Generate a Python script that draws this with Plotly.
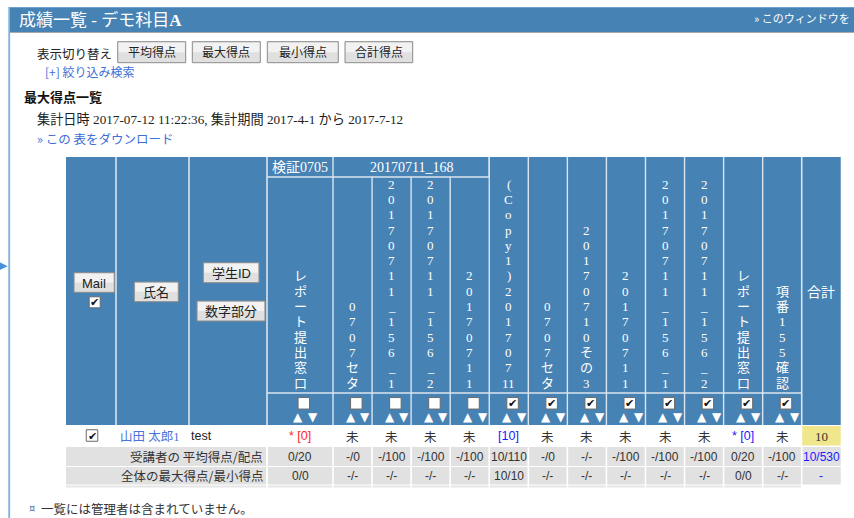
import plotly.graph_objects as go

# ======================= data =======================
page_title = "成績一覧 - デモ科目<b>A</b>"
window_link = "» このウィンドウを"
view_label = "表示切り替え"
view_buttons = ["平均得点", "最大得点", "最小得点", "合計得点"]
filter_link = "[+] 絞り込み検索"
section_title = "最大得点一覧"
summary_line = "集計日時 2017-07-12 11:22:36, 集計期間 2017-4-1 から 2017-7-12"
download_link = "» この 表をダウンロード"
footnote = "一覧には管理者は含まれていません。"

fixed_headers = ["Mail", "氏名", "学生ID", "数字部分"]
item_groups = ["検証0705", "20170711_168"]
item_group_span = [1, 4]
item_names = ["レポート提出窓口", "0707セタ", "20170711_156_1", "20170711_156_2",
              "20170711", "(Copy1)20170711", "0707セタ", "20170710その3", "20170711",
              "20170711_156_1", "20170711_156_2", "レポート提出窓口", "項番155確認"]
item_checked = [False, False, False, False, False, True, True, True, True, True, True, True, True]
total_header = "合計"

student_name = "山田 太郎1"
student_id = "test"
student_scores = ["* [0]", "未", "未", "未", "未", "[10]", "未", "未", "未", "未", "未", "* [0]", "未"]
student_score_kind = ["late", "none", "none", "none", "none", "graded", "none", "none", "none",
                      "none", "none", "graded", "none"]
student_total = "10"

avg_label = "受講者の 平均得点/配点"
avg_per_item = ["0/20", "-/0", "-/100", "-/100", "-/100", "10/110", "-/0", "-/-", "-/100",
                "-/100", "-/100", "0/20", "-/100"]
avg_total = "10/530"
maxmin_label = "全体の最大得点/最小得点"
maxmin_per_item = ["0/0", "-/-", "-/-", "-/-", "-/-", "10/10", "-/-", "-/-", "-/-", "-/-",
                   "-/-", "0/0", "-/-"]
maxmin_total = "-"

# ======================= style / layout =======================
W, H = 854, 518
BLUE = "#4682b4"
SEP = "#dbe5ef"
SANS = "Liberation Sans, Noto Sans CJK JP"
SERIF = "Liberation Serif, Noto Sans CJK JP"
CJK = "Noto Sans CJK JP, Liberation Sans"
LINK = "#3d6fd6"
TXT = "#333333"
KIND_COLOR = {"late": "#ff1f1f", "graded": "#1a1aff", "none": TXT}

TABLE_X0 = 66
FIXED_EDGES = [66, 116, 189, 267]
ITEM_W0, ITEM_W = 66, 39.06
TOTAL_W = 39
Y_TOP, Y_GROUP, Y_HEAD, Y_SORT = 157, 177, 393, 425
Y_STU = (426, 446)
Y_AVG = (447, 466)
Y_MM = (467, 484.5)
LINE_STEP = 15.3
LAST_LINE_Y = 383

edges = [FIXED_EDGES[-1]]
for i in range(len(item_names)):
    edges.append(edges[-1] + (ITEM_W0 if i == 0 else ITEM_W))
TOT_X0 = edges[-1]
TOT_X1 = TOT_X0 + TOTAL_W
centers = [(a + b) / 2 for a, b in zip(edges[:-1], edges[1:])]
TOT_C = (TOT_X0 + TOT_X1) / 2

shapes = []
annos = []


def rect(x0, y0, x1, y1, fill, line=None, lw=0):
    shapes.append(dict(type="rect", x0=x0, y0=y0, x1=x1, y1=y1, fillcolor=fill,
                       line=dict(color=line or fill, width=lw), layer="above"))


def seg(x0, y0, x1, y1, color, lw=1):
    shapes.append(dict(type="line", x0=x0, y0=y0, x1=x1, y1=y1,
                       line=dict(color=color, width=lw), layer="above"))


def text(x, y, s, size=12, color=TXT, anchor="center", family=SANS):
    annos.append(dict(x=x, y=y, text=s, showarrow=False, xanchor=anchor, yanchor="middle",
                      font=dict(size=size, color=color, family=family), borderpad=0))


def button(x0, y0, x1, y1, label, size=12):
    rect(x0, y0, x1, y1, "#e0e0e0", "#8c8c8c", 1)
    rect(x0 + 1, y0 + 1, x1 - 1, (y0 + y1) / 2, "#f2f2f2")
    text((x0 + x1) / 2, (y0 + y1) / 2 + 0.5, label, size, "#222222", family=SANS)


def checkbox(cx, cy, checked, size=11.5):
    h = size / 2
    rect(cx - h, cy - h, cx + h, cy + h, "#ffffff", "#6b6b6b", 1)
    if checked:
        text(cx, cy + 0.5, "✔", 11, "#111111", family="DejaVu Sans")


# ---------- window chrome ----------
seg(9.2, 7, 9.2, H, "#7fb0de", 1.8)
text(3.5, 265, "▶", 11, "#4a90d9", family="DejaVu Sans")
rect(10, 7, W + 2, 32, BLUE)
seg(10, 7.5, W, 7.5, "#6d9fcf", 1)
seg(10, 32.5, W, 32.5, "#a9a9a9", 1.2)
text(18, 20, page_title, 17, "#ffffff", "left", family=SERIF)
text(851, 18, window_link, 11, "#ffffff", "right", family=CJK)

# ---------- controls ----------
text(36, 53, view_label, 12.5, "#222222", "left", family=CJK)
btn_x = [(117.7, 185.7), (192.3, 260.3), (267.3, 338.3), (345, 412.7)]
for (bx0, bx1), lab in zip(btn_x, view_buttons):
    button(bx0, 41.7, bx1, 62.7, lab, 12)
text(44, 71, filter_link, 12, LINK, "left", family=CJK)
text(23, 96, "<b>" + section_title + "</b>", 13, "#111111", "left", family=CJK)
text(36, 119, summary_line, 13.2, "#222222", "left", family=SERIF)
text(36, 138, download_link, 12.5, LINK, "left", family=CJK)

# ---------- header ----------
rect(TABLE_X0, Y_TOP, TOT_X1, Y_SORT, BLUE)
for x in FIXED_EDGES[1:]:
    seg(x, Y_TOP, x, Y_SORT, SEP, 1.6)
for x in edges[1:-1]:
    seg(x, Y_TOP if x >= edges[sum(item_group_span)] else Y_GROUP, x, Y_SORT, SEP, 1.4)
# group boundaries in top row
gx = edges[0]
gi = 0
for name, span in zip(item_groups, item_group_span):
    gx1 = edges[gi + span]
    seg(gx1, Y_TOP, gx1, Y_GROUP, SEP, 1.4)
    text((gx + gx1) / 2, (Y_TOP + Y_GROUP) / 2 + 0.5, name, 14, "#ffffff", family=SERIF)
    gx, gi = gx1, gi + span
seg(edges[0], Y_GROUP, edges[sum(item_group_span)], Y_GROUP, SEP, 1.4)
seg(edges[0], Y_HEAD, TOT_X0, Y_HEAD, SEP, 1.4)
seg(TOT_X0, Y_TOP, TOT_X0, Y_SORT, SEP, 1.6)

# fixed header buttons
button(74, 272.7, 114.3, 292.3, fixed_headers[0], 13)
checkbox(94.7, 302.3, True, 11)
button(134.3, 282, 178.3, 301.7, fixed_headers[1], 13)
button(203.3, 262.7, 259, 282.7, fixed_headers[2], 13)
button(197, 301, 265, 321, fixed_headers[3], 13)

# vertical item names
for i, (name, cx) in enumerate(zip(item_names, centers)):
    lines = list(name)
    if name.startswith("(Copy"):
        lines = lines[:-2] + ["".join(lines[-2:])]
    n = len(lines)
    for k, ch in enumerate(lines):
        y = LAST_LINE_Y - (n - 1 - k) * LINE_STEP
        text(cx, y, ch, 13, "#ffffff", family=SERIF)
    checkbox(cx + 3.8, 403.3, item_checked[i], 11.5)
    text(cx - 2, 416.5, "▲", 12, "#ffffff", family="DejaVu Sans")
    text(cx + 12.8, 416.5, "▼", 12, "#ffffff", family="DejaVu Sans")
text(TOT_C, (Y_TOP + Y_SORT) / 2, total_header, 14, "#ffffff", family=CJK)

# ---------- student row ----------
checkbox(92, 435.5, True, 11.5)
text(119, 436, student_name, 12.5, "#4a72dc", "left", family=SERIF)
text(190, 436, student_id, 12.5, "#222222", "left", family=SANS)
for s, k, cx in zip(student_scores, student_score_kind, centers):
    text(cx, 436, s, 12.5, KIND_COLOR[k], family=SANS if s != "未" else CJK)
rect(TOT_X0 + 0.5, Y_STU[0], TOT_X1, Y_STU[1] - 0.5, "#f0e68c")
text(TOT_C, 436, student_total, 13, "#333333", family=SERIF)

# ---------- summary rows ----------
for (y0, y1), lab, vals, tot in [(Y_AVG, avg_label, avg_per_item, avg_total),
                                  (Y_MM, maxmin_label, maxmin_per_item, maxmin_total)]:
    rect(TABLE_X0, y0, TOT_X1, y1, "#e1e1e1")
    yc = (y0 + y1) / 2
    text(264, yc, lab, 12.5, "#333333", "right", family=CJK)
    for v, cx in zip(vals, centers):
        text(cx, yc, v, 12, "#333333", family=SANS)
    text(TOT_C, yc, tot, 12, "#1a1aff", family=SANS)
rect(TABLE_X0, 485.5, TOT_X0, 487.5, "#e6e6e6")
for x in edges + [FIXED_EDGES[-1]]:
    seg(x, Y_AVG[0], x, 487.5, "#ffffff", 1.6)

# ---------- footnote ----------
text(32, 508, "¤", 10, "#5a7ab0", family="DejaVu Sans")
text(40, 508, footnote, 12.5, "#333333", "left", family=CJK)

fig = go.Figure()
fig.add_trace(go.Scatter(x=[0, W], y=[0, H], mode="markers", marker=dict(opacity=0),
                         hoverinfo="skip", showlegend=False))
fig.update_layout(
    width=W, height=H, margin=dict(l=0, r=0, t=0, b=0),
    paper_bgcolor="#ffffff", plot_bgcolor="#ffffff",
    xaxis=dict(range=[0, W], visible=False, fixedrange=True),
    yaxis=dict(range=[H, 0], visible=False, fixedrange=True),
    shapes=shapes, annotations=annos, showlegend=False,
)
fig.write_html("out.html", config={"displayModeBar": False},
               post_script="document.body.style.margin='0';document.body.style.overflow='hidden';")
